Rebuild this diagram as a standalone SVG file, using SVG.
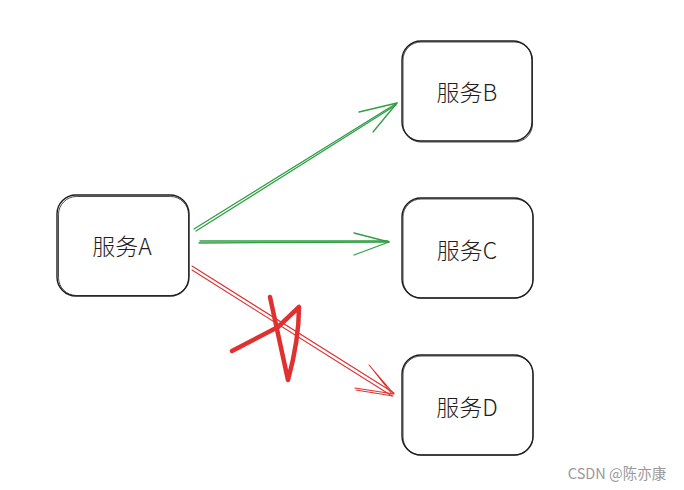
<svg xmlns="http://www.w3.org/2000/svg" width="684" height="490" viewBox="0 0 684 490">
<style>
.box{fill:#fff;stroke:#1e1e1e;stroke-width:1.4}
.box2{fill:none;stroke:#1e1e1e;stroke-width:0.8}
.lbl{font-family:"Noto Sans CJK SC","Liberation Sans",sans-serif;font-size:23px;font-weight:300;fill:#1e1e1e;text-anchor:middle;dominant-baseline:central}
.g{fill:none;stroke:#2f9e44;stroke-width:1.3;stroke-linecap:round}
.r{fill:none;stroke:#e03131;stroke-width:1.1;stroke-linecap:round}
</style>
<rect width="684" height="490" fill="#fff"/>
<g id="connectors">
  <g id="a-b">
    <path class="g" d="M194 229 L397 103"/>
    <path class="g" d="M196 231 L396 105"/>
    <path class="g" d="M397 103 L359 112 M397 103 L373 132"/>
  </g>
  <g id="a-c">
    <path class="g" d="M199 243 L389 242"/>
    <path class="g" d="M200 241 L388 241"/>
    <path class="g" d="M389 242 L354 233 M389 242 L354 255"/>
  </g>
  <g id="a-d">
    <path class="r" d="M192 266 L394 393"/>
    <path class="r" d="M192 270 L392 396"/>
    <path class="r" d="M394 394 L369 365 M392 394 L370 366 M394 394 L355 388 M393 396 L356 390"/>
  </g>
  <path id="cross" d="M232 351 L278 327 L299 307 Q299 340 288 380 L270 297" fill="none" stroke="#e03131" stroke-width="4.5" stroke-linecap="round" stroke-linejoin="round"/>
</g>
<g id="nodeA">
  <rect class="box" x="57" y="195" width="132" height="101" rx="19"/>
  <rect class="box2" x="58.5" y="196.5" width="130" height="99" rx="18"/>
  <text class="lbl" x="122" y="245">服务A</text>
</g>
<g id="nodeB">
  <rect class="box" x="402" y="41" width="130" height="100" rx="19"/>
  <rect class="box2" x="403" y="42" width="129.5" height="100" rx="18"/>
  <text class="lbl" x="467" y="91">服务B</text>
</g>
<g id="nodeC">
  <rect class="box" x="402" y="198" width="131" height="100" rx="19"/>
  <rect class="box2" x="403" y="199" width="130" height="99" rx="18"/>
  <text class="lbl" x="467" y="249">服务C</text>
</g>
<g id="nodeD">
  <rect class="box" x="402" y="355" width="131" height="100" rx="19"/>
  <rect class="box2" x="403" y="356" width="130" height="99" rx="18"/>
  <text class="lbl" x="467" y="406">服务D</text>
</g>
<text x="617" y="472" font-family="'Noto Sans CJK SC','Liberation Sans',sans-serif" font-size="14.5" fill="#999" text-anchor="middle" dominant-baseline="central">CSDN @陈亦康</text>
</svg>
